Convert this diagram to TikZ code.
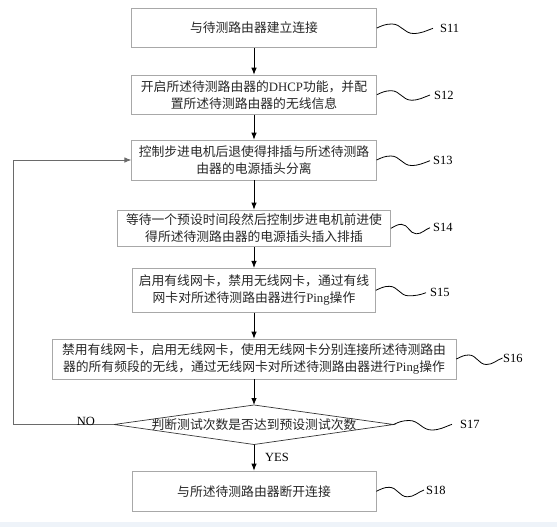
\documentclass[tikz,border=0pt]{standalone}
\usepackage{fontspec}
\setmainfont{Liberation Serif}
\newfontfamily\cjk{Noto Sans CJK SC}
\usetikzlibrary{arrows.meta,calc}
\definecolor{boxgray}{HTML}{A8A8A8}
\definecolor{loopgray}{HTML}{6A6A6A}
\definecolor{diamgray}{HTML}{333333}
\definecolor{textgray}{HTML}{262626}
\definecolor{stripblue}{HTML}{EEF3F9}
\newcommand\lat[1]{{\rmfamily #1}}
% squiggly leader from a box to its step label
\newcommand\sqg[3]{\draw[sqline] let \p1=(#1), \p2=([xshift=-#3pt]#2.west), \n1={\x2-\x1} in
  (\p1) to[out=25,in=180] (\x1+0.27*\n1,\y1+4pt) to[out=0,in=180] (\x1+0.65*\n1,\y1-5.5pt) to[out=0,in=200] (\p2);}
\begin{document}
\begin{tikzpicture}[x=1pt,y=-1pt,
  stepbox/.style={draw=boxgray,line width=0.7pt,inner sep=0pt,align=center,text=textgray,
    font=\cjk\fontsize{12.8}{17}\selectfont},
  steptext/.style={inner sep=0pt,align=center,text=textgray,font=\cjk\fontsize{12.8}{17}\selectfont},
  diam/.style={draw=diamgray,line width=0.7pt},
  lab/.style={inner sep=0pt,anchor=west,font=\fontsize{12.5}{14}\selectfont},
  arr/.style={-{Latex[length=7pt,width=5.5pt]},line width=0.8pt},
  loopline/.style={draw=loopgray,line width=0.8pt,-{Latex[length=7pt,width=5.5pt]}},
  sqline/.style={line width=0.8pt}]
\useasboundingbox (0,0) rectangle (557,527);
\fill[stripblue] (0,521.5) rectangle (557,527);

\node[stepbox,minimum width=245pt,minimum height=39.4pt] (s11) at (254,28) {与待测路由器建立连接};
\node[stepbox,minimum width=245pt,minimum height=39.3pt] (s12) at (254,94.7) {开启所述待测路由器的\lat{DHCP}功能，并配\\置所述待测路由器的无线信息};
\node[stepbox,minimum width=244.5pt,minimum height=40pt] (s13) at (254,160) {控制步进电机后退使得排插与所述待测路\\由器的电源插头分离};
\node[stepbox,minimum width=273pt,minimum height=36.7pt] (s14) at (254,228.3) {等待一个预设时间段然后控制步进电机前进使\\得所述待测路由器的电源插头插入排插};
\node[stepbox,minimum width=243pt,minimum height=44pt] (s15) at (254,290.3) {启用有线网卡，禁用无线网卡，通过有线\\网卡对所述待测路由器进行\lat{Ping}操作};
\node[stepbox,minimum width=404pt,minimum height=40pt] (s16) at (254,359) {禁用有线网卡，启用无线网卡，使用无线网卡分别连接所述待测路由\\器的所有频段的无线，通过无线网卡对所述待测路由器进行\lat{Ping}操作};

\coordinate (d17t) at (254,405);
\coordinate (d17r) at (393.5,424.5);
\coordinate (d17b) at (254,444.5);
\coordinate (d17l) at (114,424.5);
\draw[diam] (d17t) -- (d17r) -- (d17b) -- (d17l) -- cycle;
\node[steptext] (s17) at (254,424.5) {判断测试次数是否达到预设测试次数};

\node[stepbox,minimum width=244pt,minimum height=40.7pt] (s18) at (254,491.3) {与所述待测路由器断开连接};

% step labels
\node[lab] (l11) at (440,28.3) {S11};
\node[lab] (l12) at (434,95) {S12};
\node[lab] (l13) at (433,160.7) {S13};
\node[lab] (l14) at (433,227.7) {S14};
\node[lab] (l15) at (430,292.7) {S15};
\node[lab] (l16) at (503,358) {S16};
\node[lab] (l17) at (460,424.3) {S17};
\node[lab] (l18) at (426,490) {S18};

\sqg{s11.east}{l11}{7}
\sqg{s12.east}{l12}{4}
\sqg{s13.east}{l13}{3}
\sqg{s14.east}{l14}{3}
\sqg{s15.east}{l15}{4}
\sqg{s16.east}{l16}{0.5}
\sqg{d17r}{l17}{8}
\sqg{s18.east}{l18}{2}

% flow arrows
\draw[arr] (s11.south) -- (s12.north);
\draw[arr] (s12.south) -- (s13.north);
\draw[arr] (s13.south) -- (s14.north);
\draw[arr] (s14.south) -- (s15.north);
\draw[arr] (s15.south) -- (s16.north);
\draw[arr] (s16.south) -- (d17t);
\draw[arr] (d17b) -- (s18.north);
\node[lab] (yes) at (265,457) {YES};

% NO loop
\coordinate (lp) at (13.3,424.5);
\draw[loopline] (d17l) -- (lp) |- (s13.west);
\node[inner sep=0pt,anchor=base,font=\fontsize{12.5}{14}\selectfont] (no) at (86,425.5) {NO};
\end{tikzpicture}
\end{document}
